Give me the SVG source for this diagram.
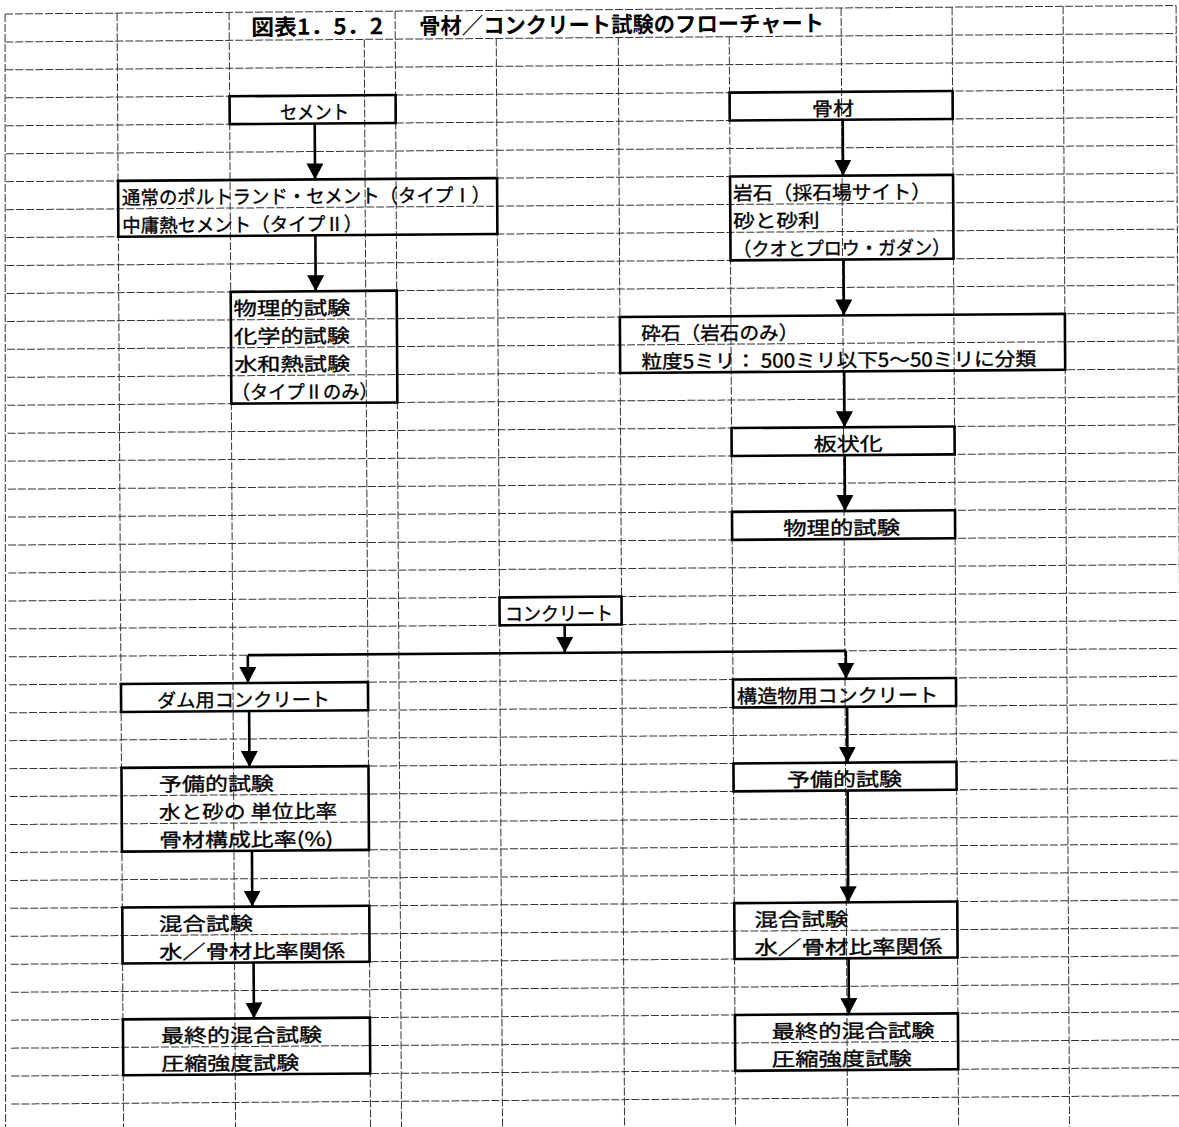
<svg xmlns="http://www.w3.org/2000/svg" width="1179" height="1127" viewBox="0 0 1179 1127">
<style>
.g{stroke:#333;stroke-width:1;stroke-dasharray:8 2;fill:none}
.b{fill:none;stroke:#000;stroke-width:2.6}
.c{fill:none;stroke:#000;stroke-width:2.6;marker-end:url(#ah)}
text{font-family:"Noto Sans CJK JP","Noto Sans CJK SC",sans-serif;font-size:19px;fill:#000;stroke:#000;stroke-width:0.35}
.t{font-weight:bold;font-size:22px;stroke:none}
</style>
<defs>
<marker id="ah" viewBox="0 0 16 17" refX="16" refY="8.5" markerWidth="16" markerHeight="17" markerUnits="userSpaceOnUse" orient="auto">
<path d="M0,0 L16,8.5 L0,17 Z" fill="#000"/>
</marker>
</defs>
<rect x="0" y="0" width="1179" height="1127" fill="#fff"/>
<g transform="matrix(1,-0.0072,0.0058,1,0,0)">
<g id="grid">
<path class="g" d="M5 14H1176M5 42H1176M5 69.9H1176M5 97.9H1176M5 125.8H1176M5 153.8H1176M5 181.7H1176M5 209.7H1176M5 237.6H1176M5 265.6H1176M5 293.5H1176M5 321.5H1176M5 349.4H1176M5 377.4H1176M5 405.3H1176M5 433.3H1176M5 461.2H1176M5 489.2H1176M5 517.1H1176M5 545.1H1176M5 573H1176M5 601H1176M5 628.9H1176M5 656.9H1176M5 684.8H1176M5 712.8H1176M5 740.7H1176M5 768.7H1176M5 796.6H1176M5 824.6H1176M5 852.5H1176M5 880.5H1176M5 908.4H1176M5 936.4H1176M5 964.3H1176M5 992.3H1176M5 1020.2H1176M5 1048.2H1176M5 1076.1H1176M5 1104.1H1176"/>
<path class="g" d="M117 14V1140M229 14V1140M395 14V1140M841 14V1140M952 14V1140M1063 14V1140M1176 14V1140M364 42V1140M496 42V1140M618 42V1140M729 42V1140"/>
</g>
<path class="g" d="M5 14L-1 1140"/>
<g id="title">
<text class="t" x="251" y="37" textLength="132" lengthAdjust="spacingAndGlyphs">図表1．5．2</text>
<text class="t" x="419" y="37" textLength="405" lengthAdjust="spacingAndGlyphs">骨材／コンクリート試験のフローチャート</text>
</g>
<g id="connectors">
<path class="c" d="M314 125.8V181.7"/>
<path class="c" d="M314 237.6V293.5"/>
<path class="c" d="M842 125.8V181.7"/>
<path class="c" d="M842 265.6V321.5"/>
<path class="c" d="M842 377.4V433.3"/>
<path class="c" d="M842 461.2V517.1"/>
<path class="c" d="M561 628.9V656.9"/>
<path fill="none" stroke="#000" stroke-width="2.6" d="M244 656.9H842"/>
<path class="c" d="M244 656.9V684.8"/>
<path class="c" d="M842 656.9V684.8"/>
<path class="c" d="M245 712.8V768.7"/>
<path class="c" d="M247 852.5V908.4"/>
<path class="c" d="M248 964.3V1020.2"/>
<path class="c" d="M843 712.8V768.7"/>
<path class="c" d="M843 796.6V908.4"/>
<path class="c" d="M843 964.3V1020.2"/>
</g>
<g id="n-cement">
<rect class="b" x="229" y="97.9" width="166" height="27.9"/>
<text x="279.4" y="121.5" textLength="69" lengthAdjust="spacingAndGlyphs">セメント</text>
</g>
<g id="n-cement-types">
<rect class="b" x="117" y="181.7" width="379" height="55.9"/>
<text x="120.9" y="205.4" textLength="368" lengthAdjust="spacingAndGlyphs">通常のポルトランド・セメント（タイプⅠ）</text>
<text x="120.9" y="233.3" textLength="240" lengthAdjust="spacingAndGlyphs">中庸熱セメント（タイプⅡ）</text>
</g>
<g id="n-cement-tests">
<rect class="b" x="229" y="293.5" width="166" height="111.8"/>
<text x="231.7" y="317.2" textLength="117" lengthAdjust="spacingAndGlyphs">物理的試験</text>
<text x="232" y="345.1" textLength="116" lengthAdjust="spacingAndGlyphs">化学的試験</text>
<text x="232" y="373.1" textLength="116" lengthAdjust="spacingAndGlyphs">水和熱試験</text>
<text x="229.5" y="401" textLength="146" lengthAdjust="spacingAndGlyphs">（タイプⅡのみ）</text>
</g>
<g id="n-aggregate">
<rect class="b" x="729" y="97.9" width="223" height="27.9"/>
<text x="811.2" y="121.5" textLength="42" lengthAdjust="spacingAndGlyphs">骨材</text>
</g>
<g id="n-rock">
<rect class="b" x="729" y="181.7" width="223" height="83.9"/>
<text x="731.8" y="205.4" textLength="198" lengthAdjust="spacingAndGlyphs">岩石（採石場サイト）</text>
<text x="731.8" y="233.3" textLength="86.5" lengthAdjust="spacingAndGlyphs">砂と砂利</text>
<text x="731.8" y="261.3" textLength="217" lengthAdjust="spacingAndGlyphs">（クオとプロウ・ガダン）</text>
</g>
<g id="n-crushed">
<rect class="b" x="618" y="321.5" width="445" height="55.9"/>
<text x="639.3" y="345.1" textLength="157" lengthAdjust="spacingAndGlyphs">砕石（岩石のみ）</text>
<text x="639.3" y="373.1" textLength="394.6" lengthAdjust="spacingAndGlyphs">粒度5ミリ： 500ミリ以下5～50ミリに分類</text>
</g>
<g id="n-plate">
<rect class="b" x="729" y="433.3" width="223" height="27.9"/>
<text x="811.1" y="456.9" textLength="69" lengthAdjust="spacingAndGlyphs">板状化</text>
</g>
<g id="n-agg-phys">
<rect class="b" x="729" y="517.1" width="223" height="28"/>
<text x="780" y="540.8" textLength="117" lengthAdjust="spacingAndGlyphs">物理的試験</text>
</g>
<g id="n-concrete">
<rect class="b" x="496" y="601" width="122" height="27.9"/>
<text x="501.5" y="624.6" textLength="108" lengthAdjust="spacingAndGlyphs">コンクリート</text>
</g>
<g id="n-dam">
<rect class="b" x="117" y="684.8" width="247" height="28"/>
<text x="153" y="708.5" textLength="173" lengthAdjust="spacingAndGlyphs">ダム用コンクリート</text>
</g>
<g id="n-struct">
<rect class="b" x="729" y="684.8" width="223" height="28"/>
<text x="733" y="708.5" textLength="201" lengthAdjust="spacingAndGlyphs">構造物用コンクリート</text>
</g>
<g id="n-prelim-left">
<rect class="b" x="117" y="768.7" width="247" height="83.8"/>
<text x="154.3" y="792.3" textLength="115" lengthAdjust="spacingAndGlyphs">予備的試験</text>
<text x="154.3" y="820.3" textLength="178" lengthAdjust="spacingAndGlyphs">水と砂の 単位比率</text>
<text x="154.3" y="848.2" textLength="174" lengthAdjust="spacingAndGlyphs">骨材構成比率(%)</text>
</g>
<g id="n-prelim-right">
<rect class="b" x="729" y="768.7" width="223" height="27.9"/>
<text x="782.5" y="792.3" textLength="115" lengthAdjust="spacingAndGlyphs">予備的試験</text>
</g>
<g id="n-mix-left">
<rect class="b" x="117" y="908.4" width="247" height="55.9"/>
<text x="153.6" y="932.1" textLength="94" lengthAdjust="spacingAndGlyphs">混合試験</text>
<text x="153.6" y="960" textLength="186" lengthAdjust="spacingAndGlyphs">水／骨材比率関係</text>
</g>
<g id="n-mix-right">
<rect class="b" x="729" y="908.4" width="223" height="55.9"/>
<text x="749" y="932.1" textLength="94" lengthAdjust="spacingAndGlyphs">混合試験</text>
<text x="749" y="960" textLength="188" lengthAdjust="spacingAndGlyphs">水／骨材比率関係</text>
</g>
<g id="n-final-left">
<rect class="b" x="117" y="1020.2" width="247" height="55.9"/>
<text x="155" y="1043.9" textLength="161" lengthAdjust="spacingAndGlyphs">最終的混合試験</text>
<text x="155" y="1071.8" textLength="138" lengthAdjust="spacingAndGlyphs">圧縮強度試験</text>
</g>
<g id="n-final-right">
<rect class="b" x="729" y="1020.2" width="223" height="55.9"/>
<text x="765.6" y="1043.9" textLength="163" lengthAdjust="spacingAndGlyphs">最終的混合試験</text>
<text x="765.6" y="1071.8" textLength="140" lengthAdjust="spacingAndGlyphs">圧縮強度試験</text>
</g>
</g>
</svg>
